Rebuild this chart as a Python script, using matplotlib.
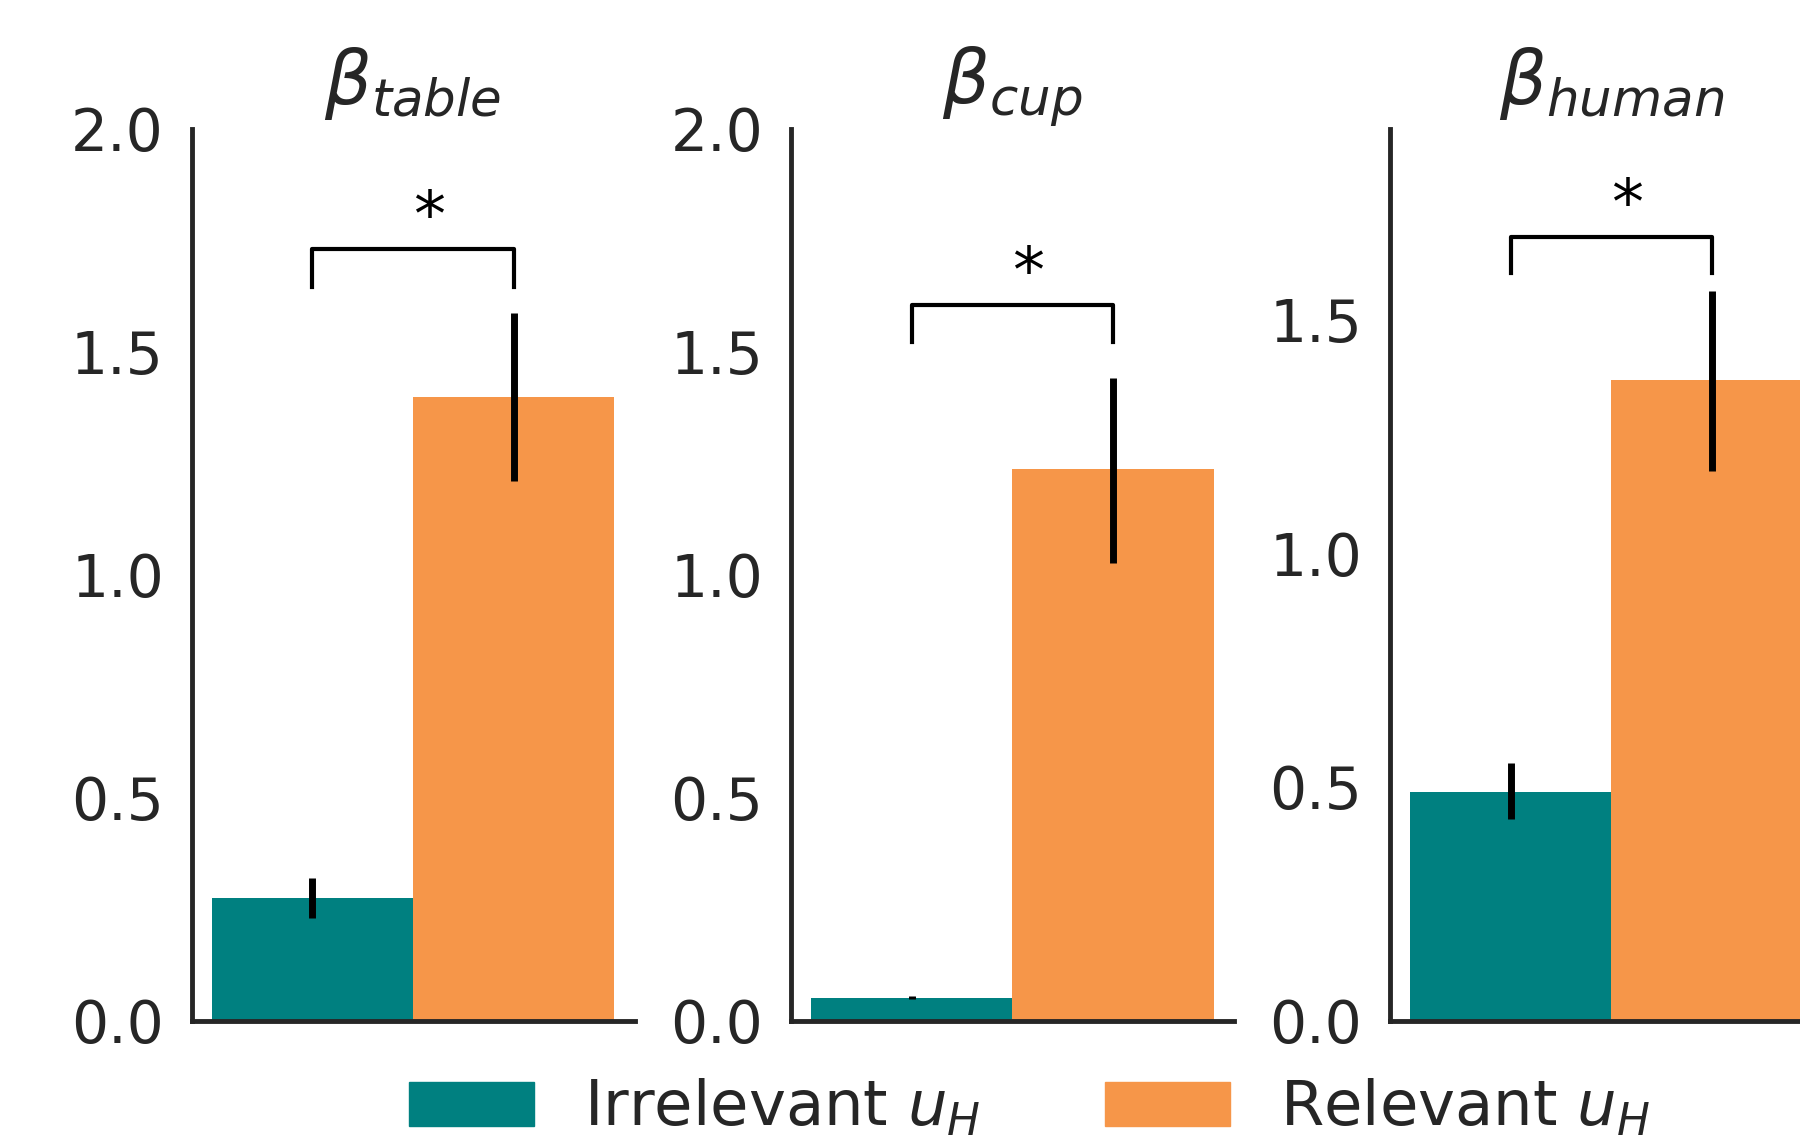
import numpy as np
import matplotlib
matplotlib.use("Agg")
import matplotlib.pyplot as plt
from matplotlib.patches import Patch

# values
params = [r"$\beta_{table}$", r"$\beta_{cup}$", r"$\beta_{human}$"]
irrelevant = [0.275, 0.051, 0.489]
irrelevant_lo = [0.23, 0.048, 0.432]
irrelevant_hi = [0.32, 0.056, 0.55]
relevant = [1.398, 1.237, 1.370]
relevant_lo = [1.21, 1.026, 1.176]
relevant_hi = [1.586, 1.442, 1.561]
bracket_y = [1.73, 1.604, 1.677]
bracket_leg = [1.645, 1.522, 1.60]
ylims = [2.0, 2.0, 1.908]
yticks = [[0.0, 0.5, 1.0, 1.5, 2.0], [0.0, 0.5, 1.0, 1.5, 2.0], [0.0, 0.5, 1.0, 1.5]]
labels = [r"Irrelevant $u_H$", r"Relevant $u_H$"]

teal = "#008080"
orange = "#F69649"
dark = "#262626"

fig = plt.figure(figsize=(18, 11.39), dpi=100)
lefts = [0.1065, 0.4394, 0.7722]

for i in range(3):
    ax = fig.add_axes([lefts[i], 0.104, 0.246, 0.783])
    ax.bar(-0.2, irrelevant[i], width=0.4, color=teal)
    ax.bar(0.2, relevant[i], width=0.4, color=orange)
    # error bars
    ax.plot([-0.2, -0.2], [irrelevant_lo[i], irrelevant_hi[i]], color="black", lw=5, solid_capstyle="butt")
    ax.plot([0.2, 0.2], [relevant_lo[i], relevant_hi[i]], color="black", lw=5, solid_capstyle="butt")
    # significance bracket
    ax.plot([-0.2, -0.2, 0.2, 0.2],
            [bracket_leg[i], bracket_y[i], bracket_y[i], bracket_leg[i]],
            color="black", lw=3)
    ax.text(0.032, bracket_y[i], "*", ha="center", va="bottom", fontsize=46, color="black")

    ax.set_xlim(-0.44, 0.44)
    ax.set_ylim(0, ylims[i])
    ax.set_yticks(yticks[i])
    ax.set_yticklabels(["%.1f" % t for t in yticks[i]])
    ax.set_xticks([])
    ax.tick_params(axis="y", length=0, pad=20, labelsize=42, labelcolor=dark)
    for s in ["top", "right"]:
        ax.spines[s].set_visible(False)
    for s in ["left", "bottom"]:
        ax.spines[s].set_color(dark)
        ax.spines[s].set_linewidth(3.5)
    ax.set_title(params[i], fontsize=53, color=dark, pad=18)

handles = [Patch(color=teal), Patch(color=orange)]
leg = fig.legend(handles, labels, loc="center", bbox_to_anchor=(0.572, 0.027),
                 ncol=2, frameon=False, fontsize=45, columnspacing=2.0)
for t in leg.get_texts():
    t.set_color(dark)

fig.savefig("out.png", dpi=100)
